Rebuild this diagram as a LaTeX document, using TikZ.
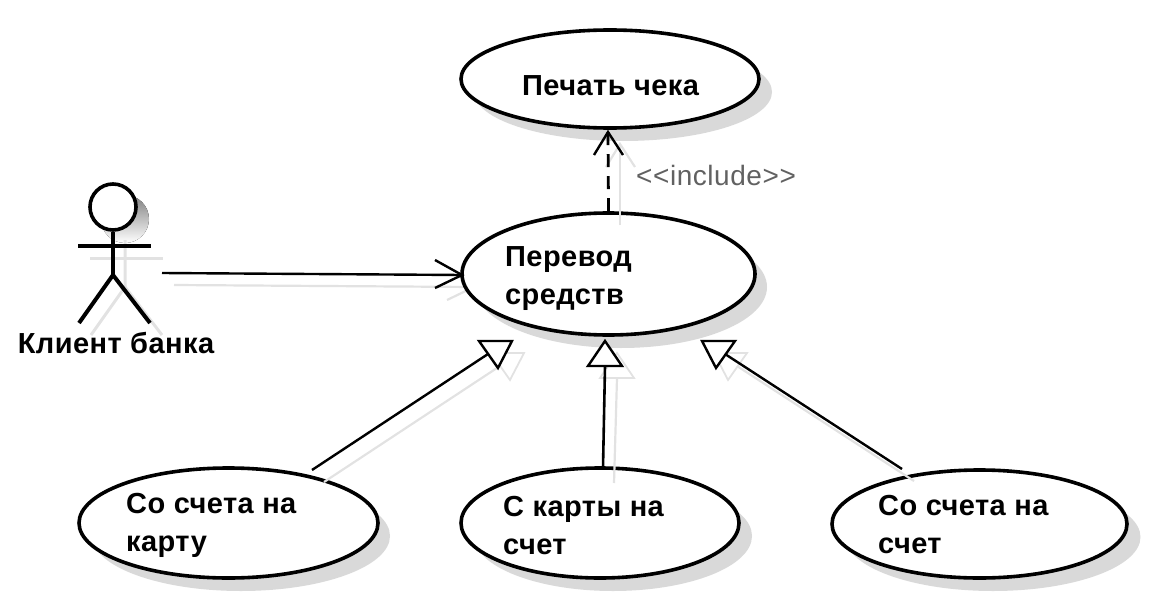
\documentclass[tikz,border=0pt]{standalone}
\usepackage{fontspec}
\setmainfont{Liberation Sans}
\newfontfamily\labelfont[LetterSpace=1.5]{Liberation Sans Bold}
\newfontfamily\stereofont[LetterSpace=2]{Liberation Sans}
\usetikzlibrary{shapes.geometric}
\definecolor{shade}{HTML}{D9D9D9}
\definecolor{shline}{HTML}{E2E2E2}
\tikzset{
  uc/.style={ellipse,draw=black,line width=3.6pt,fill=white,inner sep=0pt},
  ucshadow/.style={ellipse,fill=shade,inner sep=0pt},
  lbl/.style={font=\labelfont\fontsize{29}{38}\selectfont,align=left,anchor=west,inner sep=0pt,text=black},
  conn/.style={line width=2.4pt,black},
  shconn/.style={line width=2.2pt,shline},
  limb/.style={line width=4pt,black},
  shlimb/.style={line width=3pt,shline}
}
\begin{document}
\begin{tikzpicture}[x=1pt,y=-1pt]
\useasboundingbox (0,0) rectangle (1151,610);
% arrow shadows that pass behind the ellipses
\coordinate (shaA) at (174,285);
\coordinate (shaT) at (474,287);
\draw[shconn] (shaA) -- (shaT);
\draw[shconn] (447,300) -- (shaT);
% ellipse shadows
\node[ucshadow,minimum width=298pt,minimum height=98pt] at (623,92) {};
\node[ucshadow,minimum width=292pt,minimum height=122pt] at (621,287) {};
\node[ucshadow,minimum width=298pt,minimum height=110pt] at (241,536) {};
\node[ucshadow,minimum width=278pt,minimum height=110pt] at (613,536) {};
\node[ucshadow,minimum width=295pt,minimum height=108pt] at (993,537) {};
% ellipses
\node[uc,minimum width=298pt,minimum height=98pt] (print) at (610,79) {};
\node[uc,minimum width=293pt,minimum height=122pt] (transfer) at (608.5,274) {};
\node[uc,minimum width=299pt,minimum height=110pt] (acard) at (228.5,523) {};
\node[uc,minimum width=278pt,minimum height=110pt] (card) at (600,523) {};
\node[uc,minimum width=295pt,minimum height=108pt] (acc) at (979.5,524) {};
% connector shadows
\draw[shconn] (620,225) -- (620,144);
\draw[shconn] (606,167) -- (620,144) -- (635,167);
\draw[shconn] (324,482) -- (500,366);
\draw[shconn,line width=1.8pt] (491,353) -- (524,353) -- (510,380) -- cycle;
\draw[shconn] (614,483) -- (617,378);
\draw[shconn,line width=1.8pt] (600,378) -- (634,378) -- (617,353) -- cycle;
\draw[shconn] (914,481) -- (737,366);
\draw[shconn,line width=1.8pt] (714,353) -- (747,353) -- (728,380) -- cycle;
% actor shadow
\fill[shade] (125,219) circle (24);
\fill[white] (113,207) circle (23);
\draw[shlimb] (90,258) -- (163,258);
\draw[shlimb] (125,240) -- (125,287) -- (91,335);
\draw[shlimb] (125,287) -- (162,335);
% actor
\coordinate (hip) at (113,275);
\coordinate (armL) at (78,246);
\coordinate (armR) at (151,246);
\coordinate (footL) at (79,323);
\coordinate (footR) at (150,323);
\node[circle,draw=black,line width=3.6pt,minimum size=46pt,inner sep=0pt] (head) at (113,207) {};
\draw[limb] (head.south) -- (hip);
\draw[limb] (armL) -- (armR);
\draw[limb] (footL) -- (hip) -- (footR);
\node[lbl,anchor=center] (client) at (116,343) {Клиент банка};
% client -> transfer
\coordinate (caS) at (162,273);
\coordinate (caT) at (462,275);
\draw[conn] (caS) -- (caT);
\draw[conn] (435,260) -- (caT) -- (435,288);
% include
\coordinate (incT) at (608,132);
\draw[conn,line width=2.8pt,dash pattern=on 13pt off 9pt] (transfer.north) -- (incT);
\draw[conn] (594,155) -- (incT) -- (623,155);
\node[anchor=west,inner sep=0pt,text=black!62,font=\stereofont\fontsize{28}{30}\selectfont] (inc) at (636,175) {<{}<include>{}>};
% generalisations
\coordinate (g1b) at (488,354);
\coordinate (g2b) at (605,366);
\coordinate (g3b) at (725,354);
\draw[conn] (312,470) -- (g1b);
\draw[conn,line width=2.6pt] (603,468) -- (g2b);
\draw[conn] (902,469) -- (g3b);
\draw[conn,fill=white,line join=miter] (479,341) -- (512,341) -- (498,368) -- cycle;
\draw[conn,fill=white,line join=miter] (588,366) -- (622,366) -- (605,341) -- cycle;
\draw[conn,fill=white,line join=miter] (702,341) -- (735,341) -- (716,368) -- cycle;
% labels
\node[lbl] (t1) at (522,86) {Печать чека};
\node[lbl] (t2) at (505,279) {Перевод\\средств};
\node[lbl] (t3) at (126,525) {Со счета на\\карту};
\node[lbl] (t4) at (503,526) {С карты на\\счет};
\node[lbl] (t5) at (878,525) {Со счета на\\счет};
\end{tikzpicture}
\end{document}
